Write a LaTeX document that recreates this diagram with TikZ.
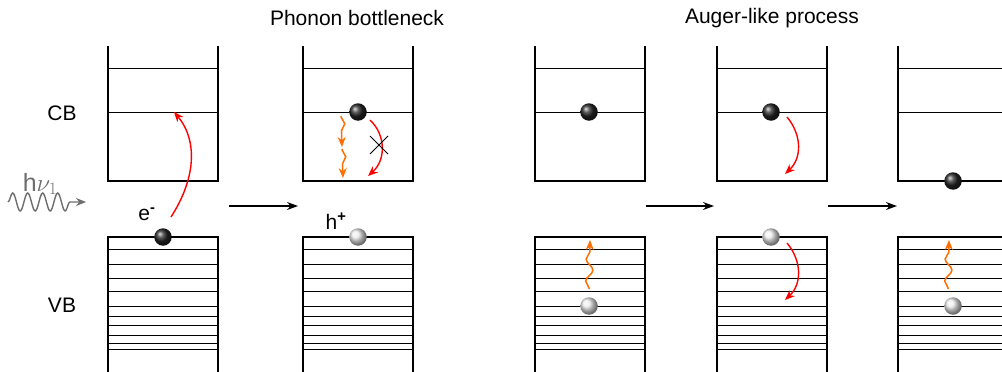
\documentclass[tikz,border=0pt]{standalone}
\usepackage{fontspec}
\setmainfont{Liberation Sans}
\usetikzlibrary{decorations.pathmorphing,arrows.meta}
\definecolor{aorange}{RGB}{255,110,0}
\definecolor{agray}{RGB}{110,110,110}
\tikzset{
  side/.style={line width=1.7pt},
  level/.style={line width=0.8pt},
  elec/.style={circle,minimum size=17.5pt,inner sep=0pt,shading=ball,ball color=black!85},
  hole/.style={circle,minimum size=17.5pt,inner sep=0pt,shading=ball,ball color=black!8},
  lbl/.style={font=\fontsize{21}{25}\selectfont,inner sep=0pt},
  redarr/.style={red,line width=1.4pt,-{Stealth[length=10pt,width=8pt]}},
  orarr/.style={aorange,line width=1.5pt,-{Stealth[length=10pt,width=8pt]},decorate,
     decoration={snake,segment length=22pt,amplitude=3.5pt,pre length=1pt,post length=7pt}},
  steparr/.style={line width=1.2pt,-{Stealth[length=11pt,width=8pt]}},
}
\newcommand{\cbbox}[2]{%
  \draw[side] (#1,46) -- (#1,#2) -- (#1+110,#2) -- (#1+110,46);
  \draw[level] (#1,68) -- (#1+110,68);
  \draw[level] (#1,112) -- (#1+110,112);
}
\newcommand{\vbbox}[1]{%
  \draw[side] (#1,372) -- (#1,237) -- (#1+110,237) -- (#1+110,372);
  \foreach \yy in {249,264,278,291,306,316,325,335,343,349}
    \draw[level] (#1,\yy) -- (#1+110,\yy);
}
\begin{document}
\begin{tikzpicture}[x=1pt,y=-1pt]
\useasboundingbox (0,0) rectangle (1002,372);
% titles
\node[lbl] (t1) at (357,18) {Phonon bottleneck};
\node[lbl] (t2) at (772,18) {Auger-like process};
\node[lbl] (cb) at (62,113) {CB};
\node[lbl] (vb) at (62,305) {VB};
% boxes
\cbbox{108}{181} \vbbox{108}
\cbbox{303}{181} \vbbox{303}
\cbbox{535}{181} \vbbox{535}
\cbbox{717}{181} \vbbox{717}
\begin{scope}
\clip (880,0) rectangle (1002,372);
\cbbox{898}{181} \vbbox{898}
\end{scope}
% photon
\node[lbl,text=agray,font=\fontsize{25}{29}\selectfont] (hv) at (40,184) {h$\nu_1$};
\coordinate (ph1) at (8,202);
\coordinate (ph2) at (86,202);
\draw[agray,line width=1.4pt,-{Stealth[length=10pt,width=8pt]},decorate,
  decoration={snake,segment length=15pt,amplitude=9pt,post length=16pt}] (ph1) -- (ph2);
% panel 1
\node[elec] (e1) at (163,237) {};
\node[lbl] (el) at (147,214) {e\textsuperscript{\textbf{-}}};
\coordinate (a1s) at (171,217);
\coordinate (a1e) at (174,112);
\draw[redarr] (a1s) .. controls (198,175) and (196,138) .. (a1e);
% step arrows
\coordinate (s1a) at (229,206); \coordinate (s1b) at (298,206);
\draw[steparr] (s1a) -- (s1b);
\coordinate (s2a) at (646,206); \coordinate (s2b) at (714,206);
\draw[steparr] (s2a) -- (s2b);
\coordinate (s3a) at (828,206); \coordinate (s3b) at (897,206);
\draw[steparr] (s3a) -- (s3b);
% panel 2
\node[elec] (e2) at (358,112) {};
\node[hole] (h2) at (358,237) {};
\node[lbl] (hl) at (336,221) {h\textsuperscript{\textbf{+}}};
\coordinate (o2a) at (341,116); \coordinate (o2b) at (342,147);
\coordinate (o2c) at (342,149); \coordinate (o2d) at (343,178);
\draw[orarr] (o2a) -- (o2b);
\draw[orarr] (o2c) -- (o2d);
\coordinate (r2a) at (370,120); \coordinate (r2b) at (368,176);
\draw[redarr] (r2a) .. controls (386,135) and (386,160) .. (r2b);
\coordinate (x1) at (370,136); \coordinate (x2) at (388,154);
\coordinate (x3) at (370,154); \coordinate (x4) at (388,136);
\draw[line width=0.9pt] (x1) -- (x2) (x3) -- (x4);
% panel 3
\node[elec] (e3) at (589,112) {};
\node[hole] (h3) at (589,306) {};
\coordinate (o3a) at (589,289); \coordinate (o3b) at (590,240);
\draw[orarr] (o3a) -- (o3b);
% panel 4
\node[elec] (e4) at (771,112) {};
\node[hole] (h4) at (771,237) {};
\coordinate (r4a) at (787,117); \coordinate (r4b) at (785,174);
\draw[redarr] (r4a) .. controls (802,135) and (802,158) .. (r4b);
\coordinate (r5a) at (787,243); \coordinate (r5b) at (785,300);
\draw[redarr] (r5a) .. controls (802,261) and (802,284) .. (r5b);
% panel 5
\node[elec] (e5) at (953,181) {};
\node[hole] (h5) at (953,306) {};
\coordinate (o5a) at (948,289); \coordinate (o5b) at (949,240);
\draw[orarr] (o5a) -- (o5b);
\end{tikzpicture}
\end{document}
